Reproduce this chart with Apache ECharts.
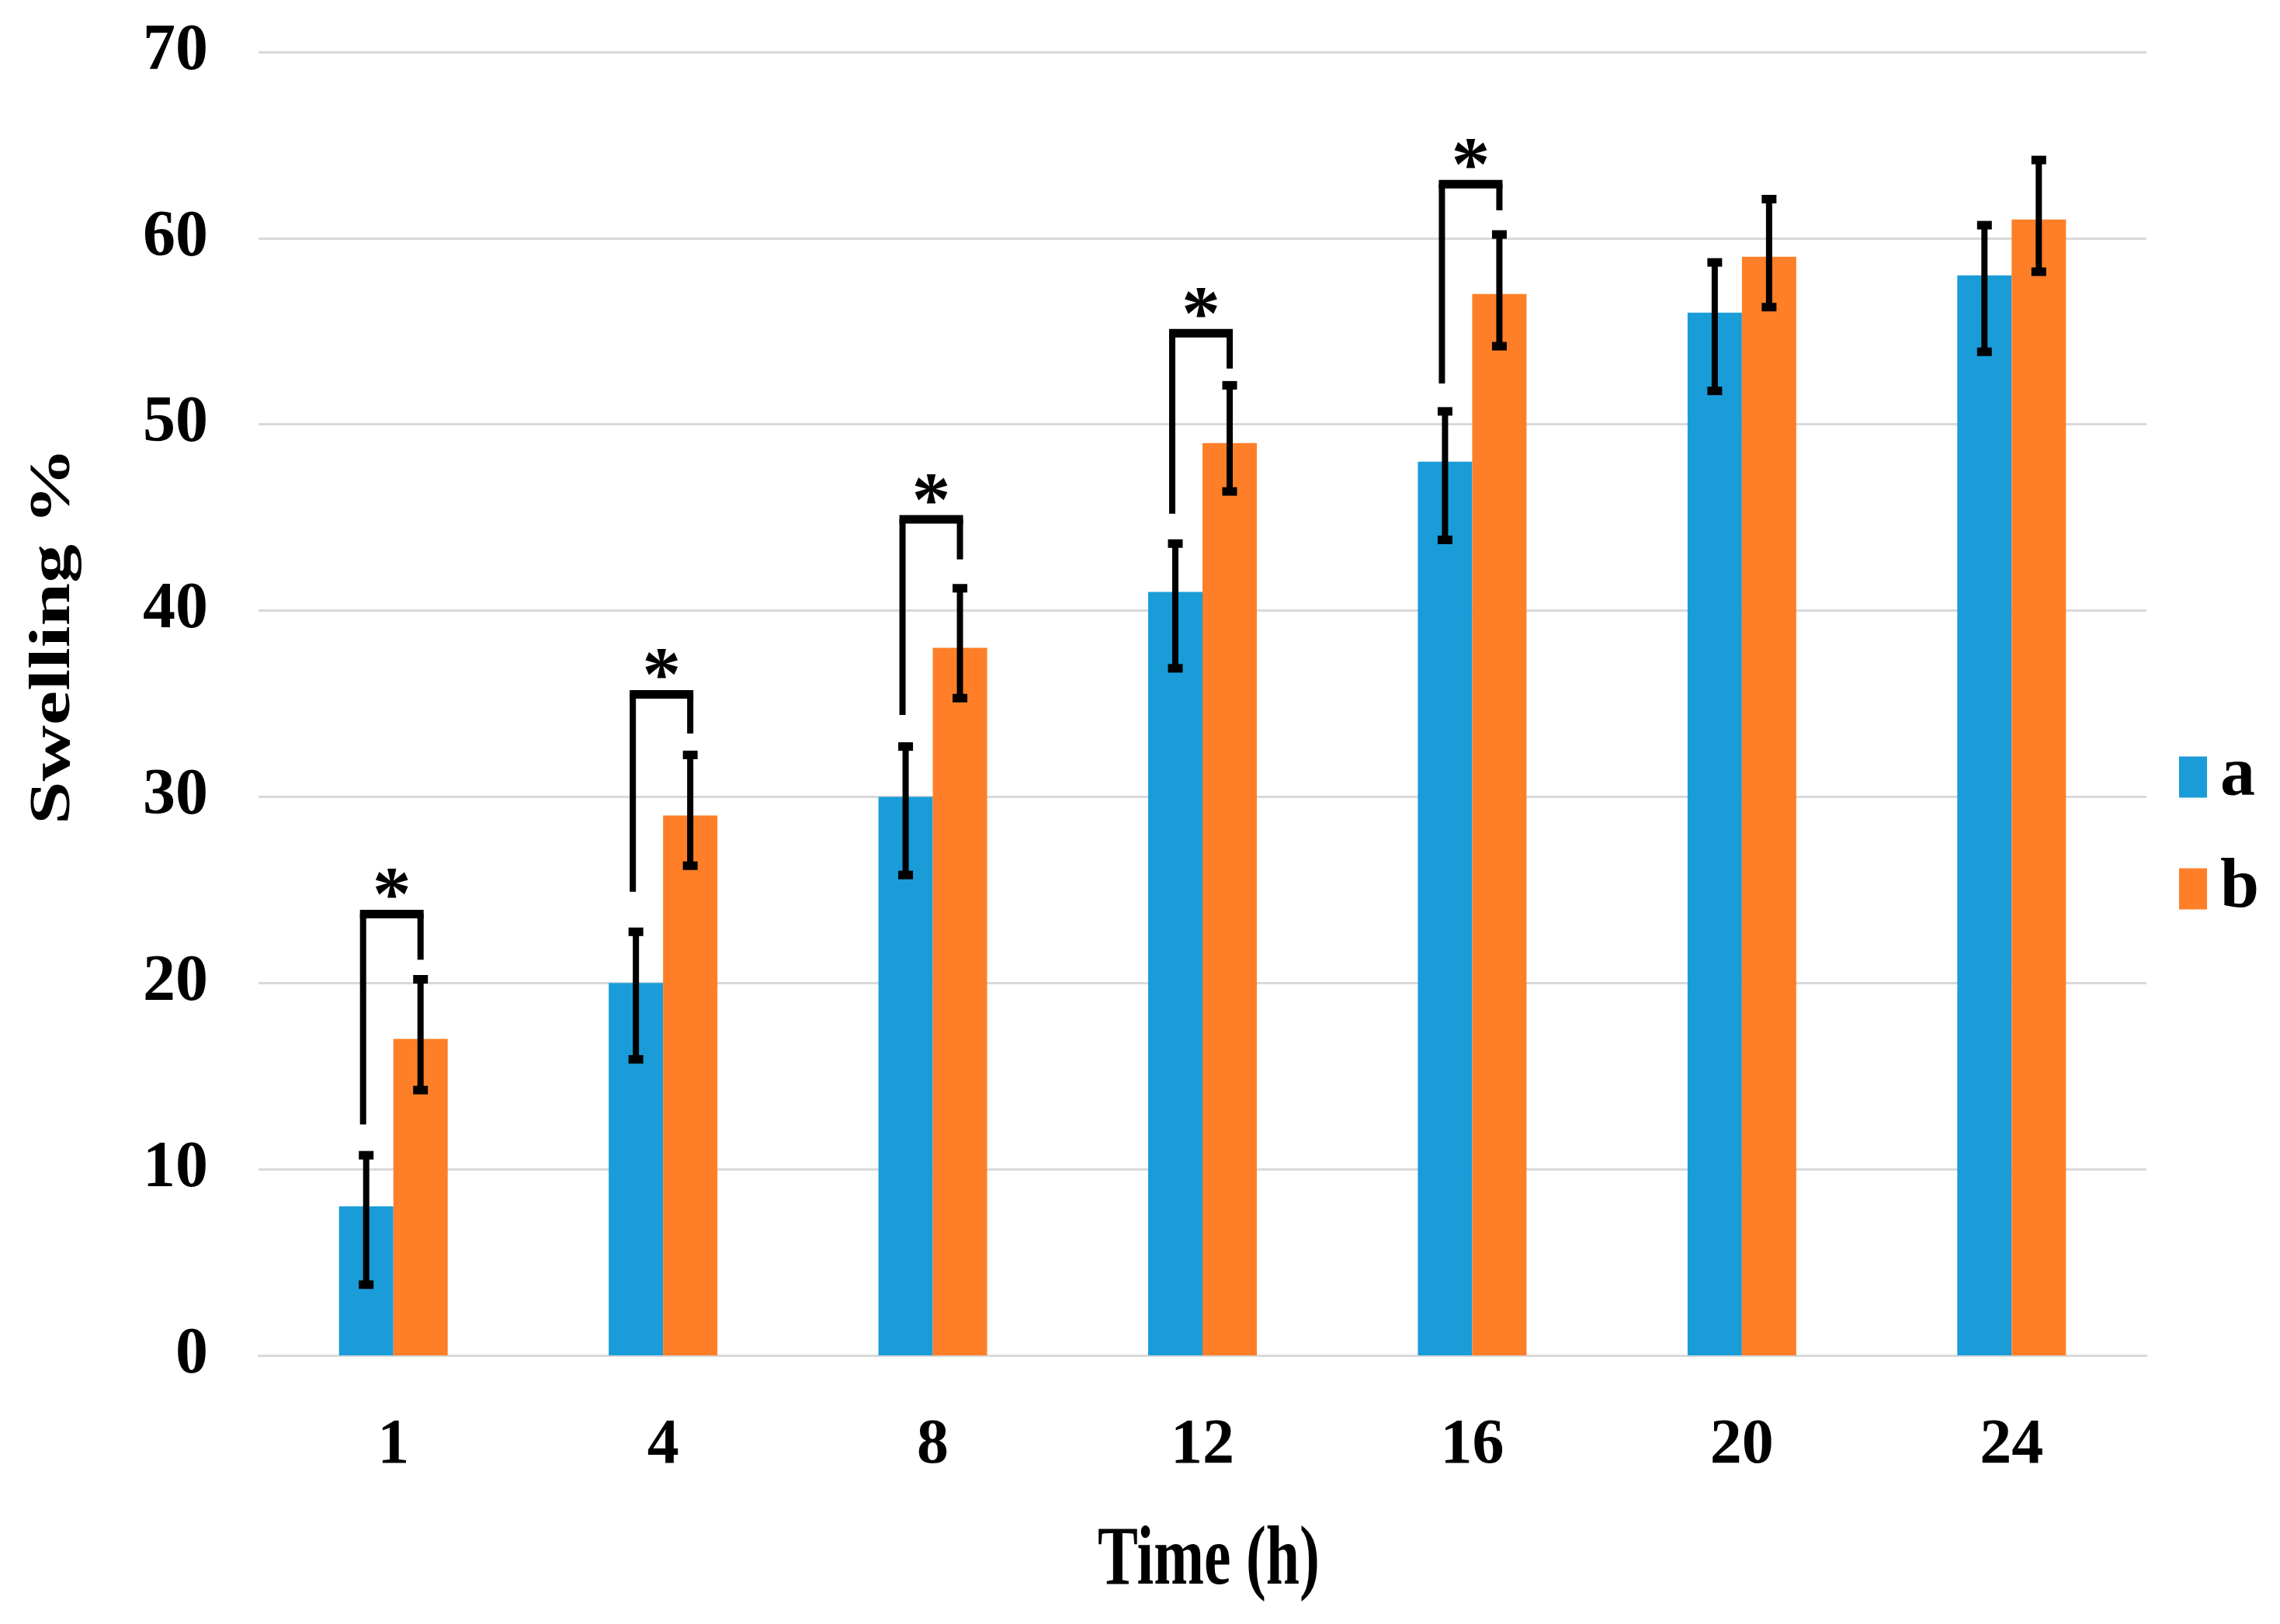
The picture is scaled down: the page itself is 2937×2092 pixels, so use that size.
<!DOCTYPE html>
<html>
<head>
<meta charset="utf-8">
<script src="https://cdn.jsdelivr.net/npm/echarts@6/dist/echarts.min.js"></script>
<style>html,body{margin:0;padding:0;background:#fff}#c{width:2937px;height:2092px}</style>
</head>
<body>
<div id="c"></div>
<script>
const categories = ['1', '4', '8', '12', '16', '20', '24'];
const seriesA = [8, 20, 30, 41, 48, 56, 58];
const seriesB = [17, 29, 38, 49, 57, 59, 61];
const errHighA = [10.75, 22.75, 32.7, 43.6, 50.7, 58.7, 60.7];
const errLowA = [3.8, 15.9, 25.8, 36.9, 43.8, 51.8, 53.9];
const errHighB = [20.2, 32.25, 41.2, 52.1, 60.2, 62.1, 64.2];
const errLowB = [14.25, 26.3, 35.3, 46.4, 54.2, 56.3, 58.2];
const sigCats = [0, 1, 2, 3, 4];
const bracketLeftFrom = [12.4, 24.9, 34.4, 45.2, 52.2];
const bracketRightFrom = [21.25, 33.4, 42.75, 53, 61.5];
const bracketTop = [23.7, 35.5, 44.9, 54.9, 62.9];
const yTicks = { min: 0, max: 70, interval: 10 };

const BAR_W = 70;
const BLUE = '#1A9CD8';
const ORANGE = '#FE7F27';
const FONT = 'Liberation Serif';

function errRender(sign) {
  return function (params, api) {
    const idx = api.value(0);
    const lo = api.coord([idx, api.value(1)]);
    const hi = api.coord([idx, api.value(2)]);
    const x = lo[0] + sign * BAR_W / 2;
    return {
      type: 'group',
      children: [
        { type: 'line', shape: { x1: x, y1: hi[1], x2: x, y2: lo[1] }, style: { stroke: '#000', lineWidth: 8 } },
        { type: 'rect', shape: { x: x - 9.5, y: hi[1] - 5.5, width: 19, height: 11 }, style: { fill: '#000' } },
        { type: 'rect', shape: { x: x - 9.5, y: lo[1] - 5.5, width: 19, height: 11 }, style: { fill: '#000' } }
      ]
    };
  };
}

function bracketRender(params, api) {
  const idx = api.value(0);
  const pL = api.coord([idx, api.value(1)]);
  const pR = api.coord([idx, api.value(2)]);
  const pT = api.coord([idx, api.value(3)]);
  const xl = pT[0] - BAR_W / 2 - 4;
  const xr = pT[0] + BAR_W / 2;
  return {
    type: 'group',
    children: [
      { type: 'line', shape: { x1: xl, y1: pL[1], x2: xl, y2: pT[1] }, style: { stroke: '#000', lineWidth: 8 } },
      { type: 'line', shape: { x1: xr, y1: pR[1], x2: xr, y2: pT[1] }, style: { stroke: '#000', lineWidth: 8 } },
      { type: 'rect', shape: { x: xl - 4, y: pT[1] - 5.5, width: xr - xl + 8, height: 11 }, style: { fill: '#000' } },
      { type: 'text', style: { text: '*', x: (xl + xr) / 2, y: pT[1] - 19, textAlign: 'center', textVerticalAlign: 'middle', font: 'bold 100px "' + FONT + '"', fill: '#000' } }
    ]
  };
}

const chart = echarts.init(document.getElementById('c'), null, { renderer: 'canvas' });
chart.setOption({
  backgroundColor: '#fff',
  animation: false,
  grid: { left: 333, right: 172, top: 67, bottom: 346 },
  legend: {
    data: ['a', 'b'],
    orient: 'vertical',
    left: 2802,
    top: 951,
    icon: 'rect',
    itemWidth: 36,
    itemHeight: 53,
    itemGap: 54,
    textStyle: { fontFamily: FONT, fontWeight: 'bold', fontSize: 90, color: '#000', lineHeight: 53, padding: [0, 0, 0, 12] }
  },
  xAxis: {
    type: 'category',
    data: categories,
    axisTick: { show: false },
    axisLine: { lineStyle: { color: '#D9D9D9', width: 3 } },
    axisLabel: { fontFamily: FONT, fontWeight: 'bold', fontSize: 82, color: '#000', margin: 76 }
  },
  yAxis: {
    type: 'value',
    min: yTicks.min,
    max: yTicks.max,
    interval: yTicks.interval,
    axisLine: { show: false },
    axisTick: { show: false },
    splitLine: { lineStyle: { color: '#D9D9D9', width: 3 } },
    axisLabel: { fontFamily: FONT, fontWeight: 'bold', fontSize: 84, color: '#000', margin: 65 }
  },
  graphic: [
    { type: 'text', x: 70, y: 819, rotation: Math.PI / 2, scaleY: 0.75,
      style: { text: 'Swelling %', textAlign: 'center', textVerticalAlign: 'middle', font: 'bold 100px "' + FONT + '"', fill: '#000' } },
    { type: 'text', x: 1557, y: 2012, scaleX: 0.72,
      style: { text: 'Time (h)', textAlign: 'center', textVerticalAlign: 'middle', font: 'bold 108px "' + FONT + '"', fill: '#000' } }
  ],
  series: [
    { name: 'a', type: 'bar', data: seriesA, barWidth: BAR_W, barGap: '0%', itemStyle: { color: BLUE } },
    { name: 'b', type: 'bar', data: seriesB, barWidth: BAR_W, barGap: '0%', itemStyle: { color: ORANGE } },
    { type: 'custom', renderItem: errRender(-1), data: categories.map((c, i) => [i, errLowA[i], errHighA[i]]), z: 5 },
    { type: 'custom', renderItem: errRender(1), data: categories.map((c, i) => [i, errLowB[i], errHighB[i]]), z: 5 },
    { type: 'custom', renderItem: bracketRender, data: sigCats.map((c, k) => [c, bracketLeftFrom[k], bracketRightFrom[k], bracketTop[k]]), z: 6 }
  ]
});
</script>
</body>
</html>
